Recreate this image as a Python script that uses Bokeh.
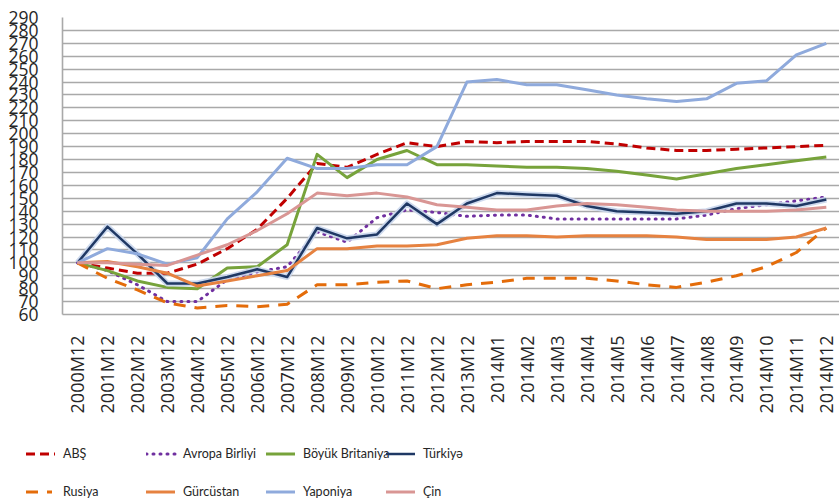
import math
from bokeh.plotting import figure
from bokeh.layouts import column
from bokeh.models import Range1d, FixedTicker, Div
from bokeh.embed import file_html
from bokeh.resources import INLINE

periods = ["2000M12", "2001M12", "2002M12", "2003M12", "2004M12", "2005M12",
           "2006M12", "2007M12", "2008M12", "2009M12", "2010M12", "2011M12",
           "2012M12", "2013M12", "2014M1", "2014M2", "2014M3", "2014M4",
           "2014M5", "2014M6", "2014M7", "2014M8", "2014M9", "2014M10",
           "2014M11", "2014M12"]

abs_values = [100, 96, 92, 92, 99, 111, 126, 150, 177, 174, 184, 193, 190, 194,
              193, 194, 194, 194, 192, 189, 187, 187, 188, 189, 190, 191]
avropa = [100, 94, 83, 70, 70, 87, 93, 97, 124, 116, 135, 141, 139, 136,
          137, 137, 134, 134, 134, 134, 134, 137, 142, 145, 148, 151]
britaniya = [100, 94, 86, 81, 80, 96, 97, 114, 184, 166, 180, 187, 176, 176,
             175, 174, 174, 173, 171, 168, 165, 169, 173, 176, 179, 182]
turkiye = [100, 128, 107, 84, 84, 89, 95, 89, 127, 119, 122, 146, 130, 146,
           154, 153, 152, 144, 140, 139, 138, 140, 146, 146, 144, 149]
rusiya = [100, 88, 79, 69, 65, 67, 66, 68, 83, 83, 85, 86, 80, 83,
          85, 88, 88, 88, 86, 83, 81, 85, 90, 97, 108, 127]
gurcustan = [100, 101, 97, 92, 82, 86, 90, 94, 111, 111, 113, 113, 114, 119,
             121, 121, 120, 121, 121, 121, 120, 118, 118, 118, 120, 127]
yaponiya = [100, 111, 107, 99, 104, 134, 155, 181, 173, 173, 176, 176, 190, 240,
            242, 238, 238, 234, 230, 227, 225, 227, 239, 241, 261, 270]
cin = [100, 100, 99, 98, 106, 114, 125, 138, 154, 152, 154, 151, 145, 143,
       141, 141, 144, 146, 145, 143, 141, 140, 140, 140, 141, 143]

y_ticks = list(range(60, 300, 10))

series_names = ["ABŞ", "Avropa Birliyi", "Böyük Britaniya", "Türkiyə",
                "Rusiya", "Gürcüstan", "Yaponiya", "Çin"]
series_values = [abs_values, avropa, britaniya, turkiye,
                 rusiya, gurcustan, yaponiya, cin]

FONT = "Open Sans"
LFONT = "Lato"
W = 3

styles = {
    "ABŞ": dict(line_color="#C00000", line_width=W, line_dash="9 5"),
    "Avropa Birliyi": dict(line_color="#7030A0", line_width=W, line_dash="1 6",
                           line_cap="round"),
    "Böyük Britaniya": dict(line_color="#77A33B", line_width=W),
    "Türkiyə": dict(line_color="#1F3864", line_width=W - 0.5),
    "Rusiya": dict(line_color="#E46C0A", line_width=W, line_dash="12 9"),
    "Gürcüstan": dict(line_color="#E68240", line_width=W),
    "Yaponiya": dict(line_color="#8FAADC", line_width=W),
    "Çin": dict(line_color="#D99694", line_width=W),
}

idx = list(range(len(periods)))

FIG_W = 839
MAIN_H = 417
p = figure(x_range=Range1d(-0.5, len(periods) - 0.56), y_range=Range1d(60, 290),
           width=FIG_W, height=MAIN_H, frame_width=777, frame_height=297,
           output_backend="svg", toolbar_location=None,
           min_border_left=62, min_border_right=0, min_border_top=17,
           min_border_bottom=103, margin=0)
p.outline_line_color = None

p.xgrid.grid_line_color = None
p.ygrid.ticker = FixedTicker(ticks=y_ticks)
p.ygrid.grid_line_color = "#a9a9a9"
p.ygrid.grid_line_width = 1.6

p.yaxis.ticker = FixedTicker(ticks=y_ticks)
p.yaxis.axis_line_color = "#a9a9a9"
p.yaxis.axis_line_width = 1.6
p.yaxis.major_tick_line_color = None
p.yaxis.minor_tick_line_color = None
p.yaxis.major_tick_out = 0
p.yaxis.major_label_standoff = 24
p.yaxis.major_label_text_font = FONT
p.yaxis.major_label_text_font_size = "17.5px"
p.yaxis.major_label_text_color = "#262626"

p.xaxis.ticker = FixedTicker(ticks=idx)
p.xaxis.major_label_overrides = {i: lab for i, lab in zip(idx, periods)}
p.xaxis.axis_line_color = "#a9a9a9"
p.xaxis.axis_line_width = 1.6
p.xaxis.major_tick_line_color = None
p.xaxis.minor_tick_line_color = None
p.xaxis.major_tick_out = 0
p.xaxis.major_label_orientation = math.pi / 2
p.xaxis.major_label_standoff = 21
p.xaxis.major_label_text_font = FONT
p.xaxis.major_label_text_font_size = "18px"
p.xaxis.major_label_text_color = "#262626"

for name, vals in zip(series_names, series_values):
    if name == "Türkiyə":
        p.line(idx, vals, line_color="#C9D6EC", line_width=W + 3,
               line_join="round", line_alpha=0.9)
    p.line(idx, vals, line_join="round", **styles[name])

# legend as an HTML block below the plot
LEG_H = 500 - MAIN_H
col_x0, col_step, row_y0, row_step = 26, 120, 37, 38
parts = []
for i, name in enumerate(series_names):
    col, row = i % 4, i // 4
    x0 = col_x0 + col * col_step
    y0 = row_y0 + row * row_step
    st = styles[name]
    sample_len = 26 if name == "Rusiya" else 29
    dash = st.get("line_dash")
    dash_attr = f' stroke-dasharray="{dash}"' if dash else ""
    cap = st.get("line_cap", "butt")
    parts.append(
        f'<div style="position:absolute;left:{x0}px;top:{y0 - 9}px;height:18px;'
        f'display:flex;align-items:center;white-space:nowrap;">'
        f'<svg width="37" height="18" style="display:block">'
        f'<line x1="0" y1="9" x2="{sample_len}" y2="9" stroke="{st["line_color"]}" '
        f'stroke-width="{st["line_width"]}" stroke-linecap="{cap}"{dash_attr}/></svg>'
        f'<span>{name}</span></div>'
    )
html = (f'<div style="position:relative;width:{FIG_W}px;height:{LEG_H}px;'
        f'font-family:{LFONT},sans-serif;font-size:12.5px;color:#262626;'
        f'line-height:18px;overflow:hidden;">' + "".join(parts) + '</div>')
legend_div = Div(text=html, width=FIG_W, height=LEG_H, margin=0)

layout = column(p, legend_div, spacing=0, margin=0)
open("out.html", "w").write(file_html(layout, INLINE))
